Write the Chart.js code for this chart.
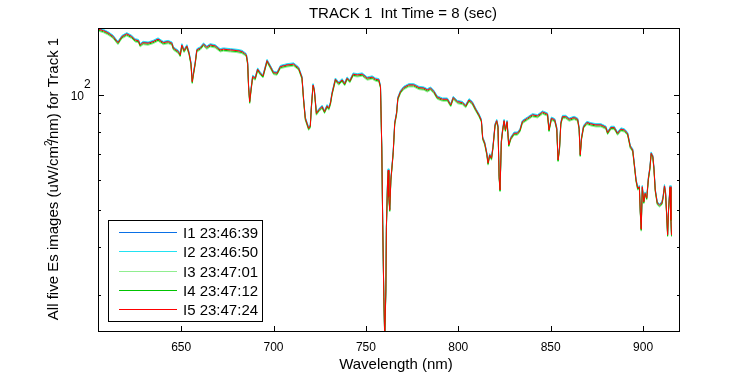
<!DOCTYPE html>
<html>
<head>
<meta charset="utf-8">
<script src="https://cdn.jsdelivr.net/npm/chart.js@4.4.0/dist/chart.umd.min.js"></script>
<style>
  html, body { margin: 0; padding: 0; background: #fff; }
  canvas { display: block; }
</style>
</head>
<body>
<canvas id="c" width="750" height="375"></canvas>
<script>
// wavelength (nm) and irradiance
const wavelength = [
  605.2, 607.9, 610.4, 613.1, 615.8, 617.9, 620.6, 623.3, 625.1, 626.9,
  627.8, 629.4, 632.1, 634.8, 637.5, 640.3, 643.0, 645.0, 645.8, 648.5,
  649.5, 650.4, 651.6, 653.1, 654.3, 655.3, 656.0, 656.7, 657.6, 658.5,
  660.3, 662.1, 663.9, 665.7, 668.4, 671.1, 672.9, 676.6, 680.2, 682.9,
  684.2, 685.3, 686.0, 686.5, 687.1, 687.8, 688.7, 690.1, 691.4, 692.8,
  694.3, 696.5, 698.3, 700.0, 701.9, 703.7, 707.3, 710.9, 713.6, 715.4,
  716.3, 717.2, 719.0, 719.9, 720.5, 721.4, 722.1, 723.2, 724.5, 726.3,
  727.6, 729.0, 729.9, 730.8, 731.7, 733.5, 735.3, 737.1, 738.5, 739.8,
  741.3, 743.1, 745.3, 748.0, 750.7, 753.4, 755.2, 757.0, 757.9, 758.6,
  759.1, 759.7, 760.2, 760.8, 761.1, 761.7, 762.1, 762.4, 762.9, 763.5,
  764.2, 764.8, 765.6, 766.6, 767.3, 768.7, 770.5, 773.2, 775.9, 778.7,
  781.4, 783.2, 785.0, 786.8, 788.6, 791.4, 794.1, 795.9, 797.3, 799.5,
  802.2, 804.0, 805.8, 807.6, 809.4, 811.2, 812.5, 813.2, 814.3, 815.4,
  816.1, 817.0, 818.0, 818.8, 819.9, 820.8, 821.5, 822.1, 822.6, 823.3,
  824.0, 824.8, 825.5, 826.4, 827.3, 828.4, 830.2, 832.0, 833.4, 834.7,
  837.4, 840.1, 842.9, 845.6, 848.3, 849.1, 850.4, 852.2, 853.3, 854.0,
  854.8, 855.5, 856.4, 858.2, 860.0, 862.7, 864.6, 865.4, 866.0, 866.7,
  867.8, 869.6, 871.8, 874.5, 877.2, 879.9, 880.8, 882.6, 884.4, 886.2,
  888.0, 889.8, 891.6, 893.1, 894.4, 895.3, 896.2, 897.1, 898.0, 898.5,
  899.0, 899.6, 900.4, 901.1, 902.0, 902.9, 903.7, 904.4, 905.3, 905.9,
  906.6, 907.7, 908.9, 910.2, 910.9, 911.6, 912.2, 912.7, 913.3, 913.8,
  914.6, 915.1, 915.4
];
const es = [
  148.9, 147.6, 145.6, 142.6, 137.3, 142.3, 144.7, 142.3, 139.5, 138.9,
  135.4, 137.3, 136.8, 138.1, 140.2, 137.3, 138.1, 136.8, 132.8, 130.1,
  127.5, 135.4, 130.9, 134.6, 128.8, 121.3, 108.5, 114.2, 121.3, 131.4,
  132.8, 136.0, 133.5, 135.4, 134.6, 131.4, 132.0, 131.4, 130.9, 130.1,
  128.8, 127.5, 121.3, 105.3, 96.2, 103.2, 111.9, 110.8, 117.0, 114.2,
  112.3, 123.2, 118.8, 114.6, 114.2, 118.8, 120.0, 120.6, 117.7, 111.3,
  97.2, 87.0, 81.9, 83.1, 93.4, 106.4, 103.2, 89.7, 91.5, 93.4,
  90.6, 93.8, 92.5, 95.3, 101.2, 110.1, 107.5, 109.7, 107.1, 110.8,
  109.0, 113.5, 113.0, 113.5, 110.8, 111.5, 110.1, 109.7, 105.3, 72.7,
  46.2, 29.7, 23.0, 30.9, 45.3, 58.8, 63.7, 54.3, 50.1, 60.0,
  65.7, 71.2, 84.5, 89.7, 98.2, 102.2, 104.7, 106.4, 106.4, 104.7,
  104.3, 103.2, 104.3, 102.2, 98.8, 97.6, 97.6, 94.3, 98.6, 96.2,
  95.6, 93.8, 97.2, 95.6, 91.9, 88.8, 85.9, 77.3, 74.9, 70.5,
  66.4, 69.8, 68.4, 73.4, 83.6, 85.8, 82.8, 61.2, 56.5, 75.6,
  81.1, 85.8, 81.1, 85.3, 74.1, 77.2, 79.5, 79.5, 81.1, 85.3,
  87.0, 88.8, 88.3, 90.3, 89.2, 81.1, 87.0, 86.2, 81.9, 67.7,
  72.7, 84.5, 87.9, 87.9, 86.5, 87.4, 86.5, 81.9, 69.8, 77.2,
  82.8, 84.8, 84.1, 83.6, 83.6, 82.4, 79.8, 82.3, 82.3, 79.5,
  81.5, 81.1, 79.5, 73.4, 71.9, 65.7, 60.0, 57.1, 57.6, 49.6,
  44.6, 57.6, 52.6, 55.4, 53.8, 60.6, 64.4, 70.5, 69.1, 64.4,
  56.5, 52.2, 51.6, 52.2, 54.3, 57.9, 55.4, 49.6, 43.1, 50.1,
  57.6, 47.2, 43.1
];

// the five images sit almost on top of each other, each a touch higher/lower
const seriesNames = ['I1 23:46:39', 'I2 23:46:50', 'I3 23:47:01', 'I4 23:47:12', 'I5 23:47:24'];
const seriesGain = [1.004, 1.008, 0.988, 0.994, 1.0];
const seriesColors = ['#0a70e6', '#22e2f2', '#90ee90', '#00c400', '#ff0000'];

const xTicks = [650, 700, 750, 800, 850, 900];
const yTicks = [30, 40, 50, 60, 70, 80, 90, 100];

const FONT = '"Liberation Sans", Arial, Helvetica, sans-serif';

var datasets = seriesNames.map(function(name, i) {
  return {
    label: name,
    data: wavelength.map(function(w, k) { return {x: w, y: es[k] * seriesGain[i]}; }),
    borderColor: seriesColors[i],
    borderWidth: 1,
    pointRadius: 0,
    tension: 0,
    fill: false,
    order: seriesNames.length - i
  };
});

// matlab style box, inward ticks, titles and legend
const matlabAxes = {
  id: 'matlabAxes',
  afterDraw(chart) {
    const ctx = chart.ctx;
    const a = chart.chartArea;
    const x = chart.scales.x, y = chart.scales.y;
    ctx.save();
    ctx.strokeStyle = '#000';
    ctx.fillStyle = '#000';
    ctx.lineWidth = 1;
    ctx.strokeRect(a.left + 0.5, a.top + 0.5, a.width - 1, a.height - 1);

    ctx.beginPath();
    xTicks.forEach(function(v) {
      const px = Math.round(x.getPixelForValue(v)) + 0.5;
      ctx.moveTo(px, a.bottom); ctx.lineTo(px, a.bottom - 6);
      ctx.moveTo(px, a.top); ctx.lineTo(px, a.top + 6);
    });
    yTicks.forEach(function(v) {
      const py = Math.round(y.getPixelForValue(v)) + 0.5;
      const len = v === 100 ? 6 : 3;
      ctx.moveTo(a.left, py); ctx.lineTo(a.left + len, py);
      ctx.moveTo(a.right, py); ctx.lineTo(a.right - len, py);
    });
    ctx.stroke();

    // 10^2 label
    const p100 = y.getPixelForValue(100);
    ctx.font = '12px ' + FONT;
    ctx.textAlign = 'right';
    ctx.textBaseline = 'alphabetic';
    ctx.fillText('10', 84, p100 + 4.5);
    ctx.textAlign = 'left';
    ctx.fillText('2', 84, p100 - 7);

    // title
    ctx.font = '15px ' + FONT;
    ctx.textAlign = 'center';
    ctx.fillText('TRACK 1  Int Time = 8 (sec)', 403, 18);

    // x label
    ctx.fillText('Wavelength (nm)', 396, 369);

    // y label with superscript
    ctx.save();
    ctx.translate(57.5, 179);
    ctx.rotate(-Math.PI / 2);
    const p1 = 'All five Es images (uW/cm', p2 = '2', p3 = '/nm) for Track 1';
    ctx.font = '15px ' + FONT;
    const w1 = ctx.measureText(p1).width, w3 = ctx.measureText(p3).width;
    ctx.font = '10px ' + FONT;
    const w2 = ctx.measureText(p2).width;
    let sx = -(w1 + w2 * 0.5 + w3) / 2;
    ctx.textAlign = 'left';
    ctx.font = '15px ' + FONT;
    ctx.fillText(p1, sx, 0);
    ctx.font = '10px ' + FONT;
    ctx.fillText(p2, sx + w1, -6);
    ctx.font = '15px ' + FONT;
    ctx.fillText(p3, sx + w1 + w2 * 0.5, 0);
    ctx.restore();

    // legend
    const lx = 108.5, ly = 220.5, lw = 154, lh = 101;
    ctx.fillStyle = '#fff';
    ctx.fillRect(lx, ly, lw, lh);
    ctx.strokeStyle = '#000';
    ctx.strokeRect(lx, ly, lw, lh);
    ctx.font = '15px ' + FONT;
    ctx.textAlign = 'left';
    chart.data.datasets.forEach(function(ds, i) {
      const ry = Math.round(232 + i * 19.25) + 0.5;
      ctx.strokeStyle = ds.borderColor;
      ctx.beginPath();
      ctx.moveTo(119, ry); ctx.lineTo(177, ry);
      ctx.stroke();
      ctx.fillStyle = '#000';
      ctx.fillText(ds.label, 183, ry + 5.5);
    });
    ctx.restore();
  }
};

new Chart(document.getElementById('c'), {
  type: 'line',
  data: { datasets: datasets },
  options: {
    responsive: false,
    animation: false,
    layout: { padding: { left: 0, top: 28, right: 70, bottom: 0 } },
    plugins: { legend: { display: false }, tooltip: { enabled: false }, title: { display: false } },
    scales: {
      x: {
        type: 'linear',
        min: 605,
        max: 920,
        grid: { display: false, drawTicks: false },
        border: { display: false },
        afterBuildTicks: function(s) { s.ticks = xTicks.map(function(v) { return {value: v}; }); },
        afterFit: function(s) { s.height = 43; },
        ticks: {
          padding: 8,
          color: '#000',
          autoSkip: false,
          maxRotation: 0,
          font: { family: FONT, size: 12 },
          callback: function(v) { return String(v); }
        }
      },
      y: {
        type: 'logarithmic',
        min: 24,
        max: 150,
        grid: { display: false, drawTicks: false },
        border: { display: false },
        afterBuildTicks: function(s) { s.ticks = yTicks.map(function(v) { return {value: v}; }); },
        afterFit: function(s) { s.width = 98; },
        ticks: { display: false }
      }
    }
  },
  plugins: [matlabAxes]
});
</script>
</body>
</html>
